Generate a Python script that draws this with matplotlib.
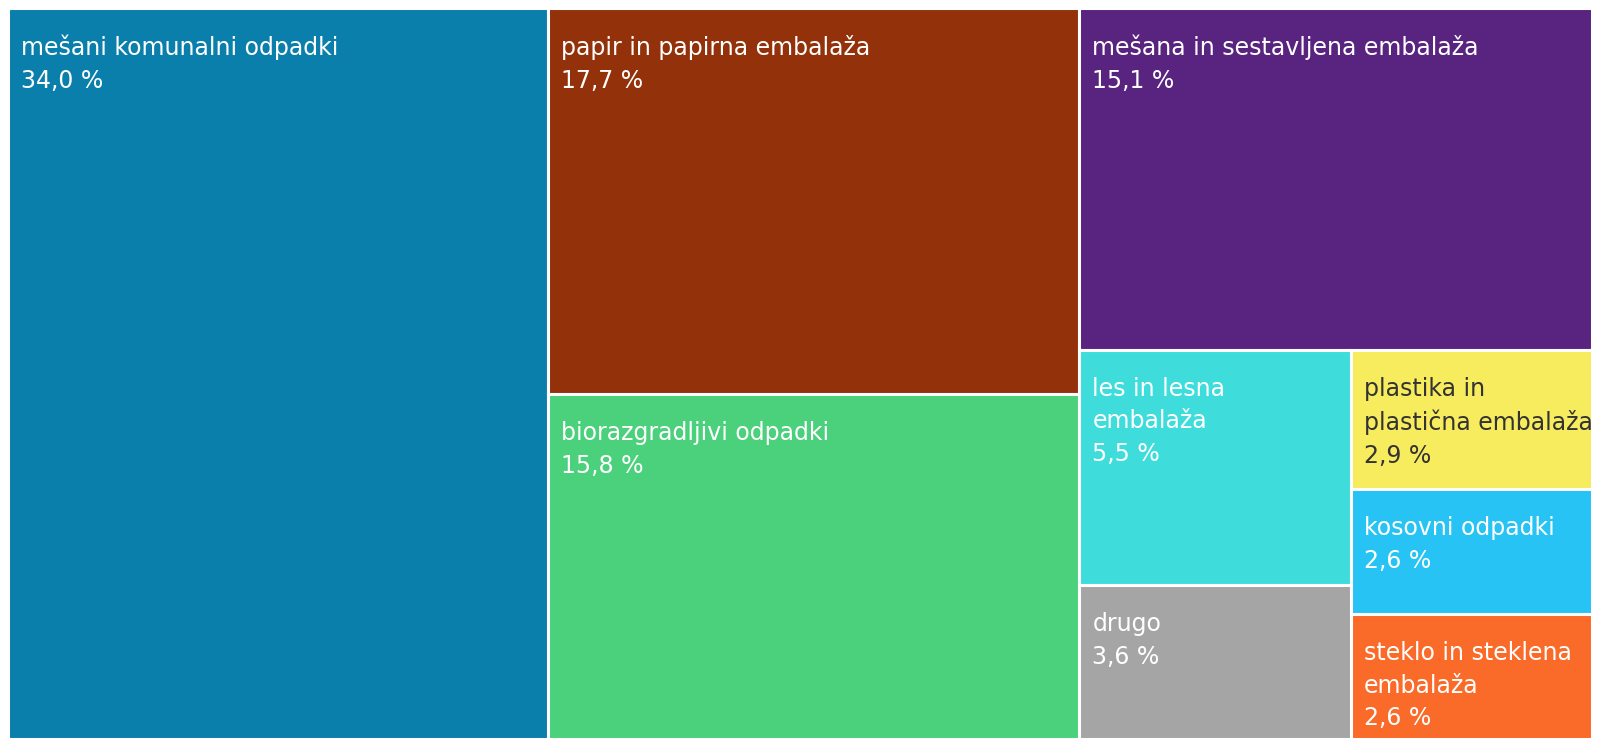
import matplotlib
matplotlib.use("Agg")
import matplotlib.pyplot as plt
from matplotlib.patches import Rectangle

# Waste fractions (% of total), Slovenian labels
labels = [
    "mešani komunalni odpadki",
    "papir in papirna embalaža",
    "biorazgradljivi odpadki",
    "mešana in sestavljena embalaža",
    "les in lesna\nembalaža",
    "drugo",
    "plastika in\nplastična embalaža",
    "kosovni odpadki",
    "steklo in steklena\nembalaža",
]
values = [34.0, 17.7, 15.8, 15.1, 5.5, 3.6, 2.9, 2.6, 2.6]
colors = ["#0b7fab", "#92310a", "#4bd07b", "#58247f", "#3fdcdc",
          "#a5a5a5", "#f7eb5e", "#28c3f5", "#fa6a28"]
text_colors = ["white"] * 6 + ["#333333"] + ["white"] * 2

# Nested slice-and-dice structure: list of indices per column;
# the last column holds a top tile and a block of two sub-columns.
structure = [
    [0],
    [1, 2],
    [3, [[4, 5], [6, 7, 8]]],
]

W, H = 1601, 738
fig = plt.figure(figsize=(W / 100, H / 100), dpi=100)
ax = fig.add_axes([0, 0, 1, 1])
ax.set_xlim(0, W)
ax.set_ylim(H, 0)
ax.axis("off")

x0, y0, x1, y1 = 8, 8, 1592, 739


def total(node):
    if isinstance(node, int):
        return values[node]
    return sum(total(n) for n in node)


def draw_tile(i, x, y, w, h):
    ax.add_patch(Rectangle((x, y), w, h, facecolor=colors[i],
                           edgecolor="white", linewidth=2.2))
    pct = f"{values[i]:.1f}".replace(".", ",") + " %"
    ax.text(x + 13, y + 27, f"{labels[i]}\n{pct}", color=text_colors[i],
            fontsize=17, family="DejaVu Sans", va="top", ha="left",
            linespacing=1.45)


def layout_vertical(nodes, x, y, w, h):
    # stack nodes top to bottom inside a column
    tot = sum(total(n) for n in nodes)
    cy = y
    for n in nodes:
        nh = h * total(n) / tot
        if isinstance(n, int):
            draw_tile(n, x, cy, w, nh)
        else:
            layout_horizontal(n, x, cy, w, nh)
        cy += nh


def layout_horizontal(cols, x, y, w, h):
    # place columns left to right
    tot = sum(total(c) for c in cols)
    cx = x
    for c in cols:
        cw = w * total(c) / tot
        layout_vertical(c, cx, y, cw, h)
        cx += cw


layout_horizontal(structure, x0, y0, x1 - x0, y1 - y0)

fig.savefig("out.png", dpi=100, facecolor="white")
